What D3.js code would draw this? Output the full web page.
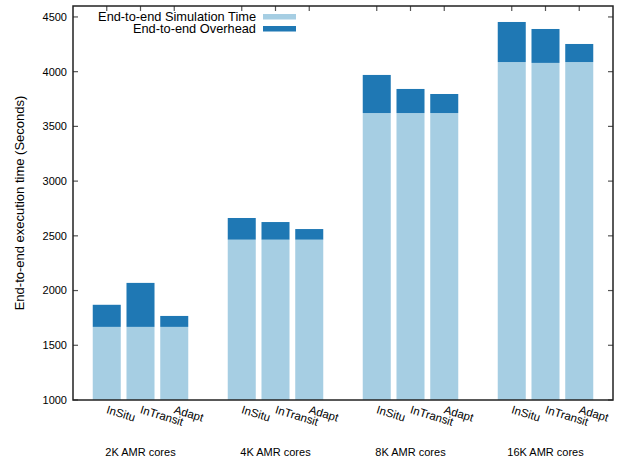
<!DOCTYPE html>
<html>
<head>
<meta charset="utf-8">
<script src="https://cdn.jsdelivr.net/npm/d3@7"></script>
<style>
  body { margin: 0; background: #fff; }
  text { font-family: "Liberation Sans", Arial, sans-serif; fill: #000; }
</style>
</head>
<body>
<script>
// core counts and the three placement strategies
var groups = ["2K AMR cores", "4K AMR cores", "8K AMR cores", "16K AMR cores"];
var methods = ["InSitu", "InTransit", "Adapt"];

// simulation time per group, one value per method (seconds)
var simTime = [
  [1668, 1668, 1668],
  [2465, 2465, 2465],
  [3622, 3622, 3622],
  [4088, 4080, 4088]
];
// overhead on top of the simulation time (seconds)
var overhead = [
  [202, 402, 100],
  [198, 161, 97],
  [348, 220, 174],
  [366, 310, 165]
];
var yTicks = [1000, 1500, 2000, 2500, 3000, 3500, 4000, 4500];

var seriesNames = ["End-to-end Simulation Time", "End-to-end Overhead"];
var colors = ["#a6cee3", "#1f78b4"];

var W = 623, H = 459;
// plot area edges (window.top is reserved, so prefix with m)
var mLeft = 73, mRight = 613, mTop = 6, mBottom = 400;

// flatten into bars
var bars = [];
groups.forEach(function(g, gi) {
  methods.forEach(function(m, mi) {
    bars.push({
      group: g, method: m, pos: gi * 4 + mi,
      sim: simTime[gi][mi], over: overhead[gi][mi]
    });
  });
});

var x = d3.scaleLinear().domain([-1, 15]).range([mLeft, mRight]);
var y = d3.scaleLinear().domain([1000, 4600]).range([mBottom, mTop]);
var bw = (x(1) - x(0)) * 0.83;

var svg = d3.select("body").append("svg")
    .attr("width", W)
    .attr("height", H);

// ticks (inward, mirrored) drawn first so bars cover the bottom ones
var tickLen = 5;
var tk = svg.append("g").attr("stroke", "#555").attr("stroke-width", 1.2);
yTicks.forEach(function(t) {
  tk.append("line").attr("x1", mLeft).attr("x2", mLeft + tickLen)
    .attr("y1", y(t)).attr("y2", y(t));
  tk.append("line").attr("x1", mRight).attr("x2", mRight - tickLen)
    .attr("y1", y(t)).attr("y2", y(t));
});
bars.forEach(function(d) {
  tk.append("line").attr("x1", x(d.pos)).attr("x2", x(d.pos))
    .attr("y1", mTop).attr("y2", mTop + tickLen);
  tk.append("line").attr("x1", x(d.pos)).attr("x2", x(d.pos))
    .attr("y1", mBottom).attr("y2", mBottom - tickLen);
});

// stacked bars
var bg = svg.append("g");
bg.selectAll("rect.sim").data(bars).enter().append("rect")
    .attr("class", "sim")
    .attr("x", function(d) { return x(d.pos) - bw / 2; })
    .attr("width", bw)
    .attr("y", function(d) { return y(d.sim); })
    .attr("height", function(d) { return y(1000) - y(d.sim); })
    .attr("fill", colors[0]);
bg.selectAll("rect.over").data(bars).enter().append("rect")
    .attr("class", "over")
    .attr("x", function(d) { return x(d.pos) - bw / 2; })
    .attr("width", bw)
    .attr("y", function(d) { return y(d.sim + d.over); })
    .attr("height", function(d) { return y(d.sim) - y(d.sim + d.over); })
    .attr("fill", colors[1]);

// border
svg.append("rect")
    .attr("x", mLeft).attr("y", mTop)
    .attr("width", mRight - mLeft).attr("height", mBottom - mTop)
    .attr("fill", "none").attr("stroke", "#222").attr("stroke-width", 1.5);

// y tick labels
svg.append("g").selectAll("text").data(yTicks).enter().append("text")
    .attr("x", mLeft - 6)
    .attr("y", function(d) { return y(d); })
    .attr("dy", "0.35em")
    .attr("text-anchor", "end")
    .style("font-size", "11px")
    .text(function(d) { return d; });

// rotated method labels
svg.append("g").selectAll("text").data(bars).enter().append("text")
    .attr("transform", function(d) {
      return "translate(" + (x(d.pos) - 1) + "," + (mBottom + 13) + ") rotate(17)";
    })
    .attr("text-anchor", "start")
    .style("font-size", "11.5px")
    .text(function(d) { return d.method; });

// group labels
svg.append("g").selectAll("text").data(groups).enter().append("text")
    .attr("x", function(d, i) { return x(i * 4 + 1); })
    .attr("y", 456)
    .attr("text-anchor", "middle")
    .style("font-size", "11px")
    .text(function(d) { return d; });

// y axis title
svg.append("text")
    .attr("transform", "translate(24," + ((mTop + mBottom) / 2) + ") rotate(-90)")
    .attr("text-anchor", "middle")
    .style("font-size", "13px")
    .text("End-to-end execution time (Seconds)");

// legend
var lg = svg.append("g");
seriesNames.forEach(function(s, i) {
  var ly = 16.5 + i * 12;
  lg.append("text")
    .attr("x", 256).attr("y", ly).attr("dy", "0.35em")
    .attr("text-anchor", "end")
    .style("font-size", "12.8px")
    .text(s);
  lg.append("rect")
    .attr("x", 263).attr("y", ly - 2.5)
    .attr("width", 33).attr("height", 5.5)
    .attr("fill", colors[i]);
});
</script>
</body>
</html>
